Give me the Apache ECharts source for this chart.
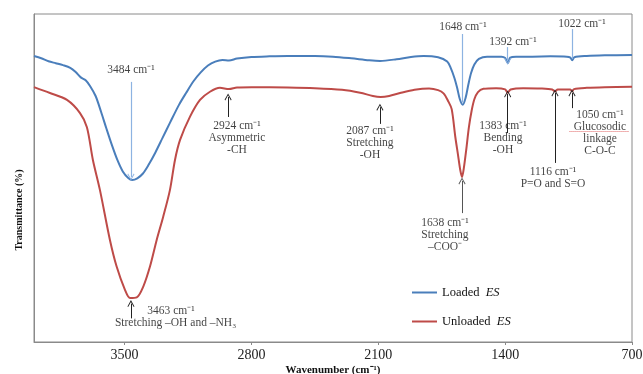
<!DOCTYPE html>
<html><head><meta charset="utf-8">
<script src="https://cdn.jsdelivr.net/npm/echarts@6/dist/echarts.min.js"></script>
<style>html,body{margin:0;padding:0;background:#fff;overflow:hidden}#c{width:643px;height:374px}</style>
</head><body><div id="c"></div>
<script>
// ---- data ----
const xTicks = [700, 1400, 2100, 2800, 3500];
const seriesNames = ['Loaded ES', 'Unloaded ES'];

const loadedWn = [4000,3960,3920,3880,3840,3800,3770,3740,3715,3690,3660,3630,3600,3570,3540,3510,3480,3458,3430,3400,3370,3330,3290,3250,3200,3160,3120,3080,3040,3000,2960,2924,2880,2800,2700,2600,2450,2350,2250,2150,2090,2000,1920,1850,1770,1720,1700,1680,1665,1650,1634,1618,1603,1588,1570,1545,1500,1420,1400,1385,1372,1340,1250,1150,1060,1040,1030,1018,950,850,700];
const loadedT  = [87.2,86.5,85.6,85.0,84.4,83.6,82.3,80.6,79.8,78.0,75.0,70.2,65.0,60.0,55.5,52.0,50.0,49.4,49.9,51.3,53.8,57.8,62.3,66.8,72.3,76.0,79.5,82.2,84.3,85.5,86.0,85.8,86.4,86.9,87.1,87.2,87.2,87.0,86.5,85.9,85.7,86.2,86.9,87.2,86.8,85.5,83.5,80.5,77.5,74.0,72.3,74.5,78.5,82.0,84.6,86.3,87.0,87.0,86.6,85.0,86.7,87.0,87.0,87.1,87.0,86.7,85.9,86.8,87.2,87.4,87.5];

const unloadedWn = [4000,3912,3818,3746,3708,3675,3636,3581,3544,3498,3470,3433,3397,3360,3323,3287,3250,3222,3194,3139,3084,3029,2974,2924,2880,2800,2600,2450,2300,2200,2130,2087,2040,1980,1900,1820,1770,1740,1715,1695,1675,1660,1648,1638,1628,1615,1600,1585,1570,1550,1520,1450,1400,1386,1370,1300,1200,1140,1125,1110,1065,1040,1031,1020,950,850,700];
const unloadedT  = [77.7,75.9,73.8,69.8,65.5,55.5,46.3,31.1,23.0,15.9,13.4,13.6,16.9,23.0,31.1,38.2,46.3,55.5,61.6,68.7,73.8,76.3,77.5,77.1,77.6,77.7,77.6,77.4,76.9,76.0,75.0,74.7,75.0,75.9,76.9,77.3,76.8,75.8,73.5,71.0,62.5,57.0,52.5,50.3,53.0,58.5,65.5,70.5,74.0,76.2,77.2,77.4,77.0,76.0,77.0,77.4,77.3,77.0,76.4,77.0,77.0,77.0,76.4,77.1,77.5,77.7,77.8];

// annotation texts, anchored in data coordinates (wavenumber, transmittance)
const noteText = ['3484 cm⁻¹', '2924 cm⁻¹\nAsymmetric\n-CH', '2087 cm⁻¹\nStretching\n-OH', '1648 cm⁻¹', '1392 cm⁻¹', '1022 cm⁻¹',
  '1383 cm⁻¹\nBending\n-OH', '1116 cm⁻¹\nP=O and S=O', '1050 cm⁻¹\nGlucosodic\nlinkage\nC-O-C', '1638 cm⁻¹\nStretching\n–COO⁻',
  '3463 cm⁻¹', 'Stretching –OH and –NH₃'];
const noteWn = [3465, 2880, 2146, 1633, 1357, 976, 1412, 1136, 877, 1732, 3244, 3219];
const noteT  = [82.9, 62.2, 60.7, 96.0, 91.5, 97.0, 62.2, 50.0, 63.7, 32.6, 9.45, 5.8];

// arrows: wavenumber, from T, to T (arrow head at "to"), kind
const arrowWn   = [3465, 2929, 2091, 1634, 1386, 1031, 1386, 1125, 1031, 1638, 3465];
const arrowFrom = [79.3, 68.6, 66.5, 93.9, 89.9, 95.4, 63.7, 54.6, 71.3, 39.3, 7.2];
const arrowTo   = [50.3, 74.7, 71.6, 73.0, 85.6, 86.3, 75.6, 75.9, 75.9, 49.1, 11.7];
const arrowKind = ['blue', 'dark', 'dark', 'blueplain', 'blue', 'blueplain', 'dark', 'dark', 'dark', 'gray', 'dark'];

// ---- chart ----
const BLUE = '#4a7ebb', RED = '#be4b48';
const SERIF = '"Liberation Serif", "Times New Roman", serif';
const arrowPath = 'path://M5,0L10,9L9,10L5,2.6L1,10L0,9Z';
const kindColor = {blue: '#8db3e2', blueplain: '#8db3e2', dark: '#222', gray: '#555'};

const arrowLines = arrowWn.map((w, i) => {
  const k = arrowKind[i];
  return [
    {coord: [w, arrowFrom[i]], symbol: 'none', lineStyle: {color: kindColor[k], width: k.startsWith('blue') ? 1.2 : 1}},
    {coord: [w, arrowTo[i]], symbol: k === 'blueplain' ? 'none' : arrowPath, symbolSize: [7, 7]}
  ];
});
// spell-check style underline below "Glucosodic"
arrowLines.push([
  {coord: [1045, 64.3], symbol: 'none', lineStyle: {color: '#e06666', width: 1, type: 'dotted'}},
  {coord: [715, 64.3], symbol: 'none'}
]);

const el = document.getElementById('c');
const chart = echarts.init(el, null, {width: 643, height: 374});
chart.setOption({
  animation: false,
  backgroundColor: '#fff',
  grid: {left: 34, right: 11, top: 14, bottom: 32, containLabel: false, outerBoundsMode: 'none',
         show: true, borderColor: '#8a8a8a', borderWidth: 1},
  legend: {
    data: seriesNames,
    orient: 'vertical',
    left: 407, top: 281,
    itemWidth: 25, itemHeight: 2, icon: 'rect', itemGap: 16,
    formatter: n => n.replace(' ES', '  {i|ES}'),
    textStyle: {fontFamily: SERIF, fontSize: 12.5, color: '#111', rich: {i: {fontStyle: 'italic', fontFamily: SERIF, fontSize: 12.5, color: '#111'}}}
  },
  xAxis: {
    type: 'value', inverse: true, min: 700, max: 4000, interval: 700,
    name: 'Wavenumber (cm⁻¹)', nameLocation: 'middle', nameGap: 23, nameMoveOverlap: false,
    nameTextStyle: {fontFamily: SERIF, fontWeight: 'bold', fontSize: 11, color: '#111'},
    axisLine: {lineStyle: {color: '#8a8a8a'}},
    axisTick: {length: 3, lineStyle: {color: '#8a8a8a'}},
    axisLabel: {fontFamily: SERIF, fontSize: 14, color: '#222', margin: 6, showMaxLabel: false,
                formatter: v => xTicks.includes(v) ? String(v) : ''},
    splitLine: {show: false}
  },
  yAxis: {
    type: 'value', min: 0, max: 100,
    name: 'Transmittance (%)', nameLocation: 'middle', nameGap: 10, nameMoveOverlap: false,
    nameTextStyle: {fontFamily: SERIF, fontWeight: 'bold', fontSize: 10, color: '#111', padding: [0, 64, 0, 0]},
    axisLine: {show: true, lineStyle: {color: '#8a8a8a'}},
    axisTick: {show: false}, axisLabel: {show: false}, splitLine: {show: false}
  },
  series: [
    {name: seriesNames[0], type: 'line', showSymbol: false, smooth: 0.3, color: BLUE, lineStyle: {width: 2},
     data: loadedWn.map((w, i) => [w, loadedT[i]])},
    {name: seriesNames[1], type: 'line', showSymbol: false, smooth: 0.3, color: RED, lineStyle: {width: 2},
     data: unloadedWn.map((w, i) => [w, unloadedT[i]])},
    {name: 'notes', type: 'scatter', symbolSize: 0, silent: true,
     data: noteWn.map((w, i) => [w, noteT[i], noteText[i]]),
     label: {show: true, position: 'inside', formatter: p => p.data[2], fontFamily: SERIF, fontSize: 11.5,
             lineHeight: 12, color: '#111', align: 'center', verticalAlign: 'middle'},
     markLine: {silent: true, animation: false, label: {show: false}, symbol: ['none', arrowPath], symbolSize: [7, 7],
                lineStyle: {type: 'solid'}, data: arrowLines}}
  ]
});
</script>
</body></html>
